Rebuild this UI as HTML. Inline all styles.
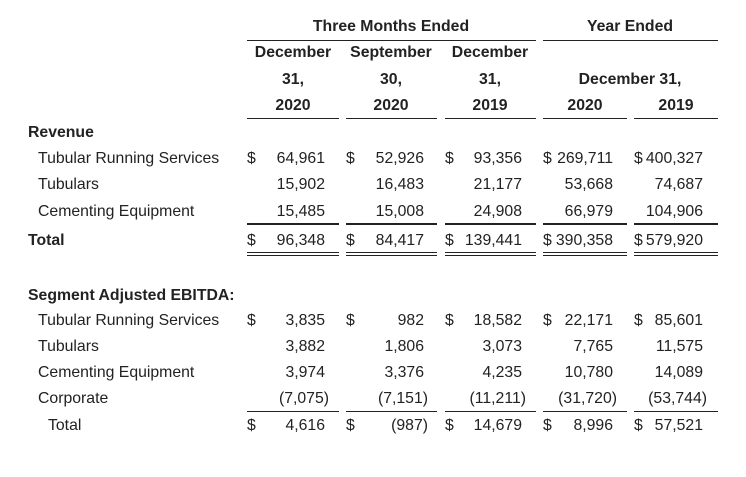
<!DOCTYPE html>
<html><head><meta charset="utf-8">
<style>
body{margin:0;width:746px;height:477px;background:#fff;position:relative;overflow:hidden;font-family:"Liberation Sans",Arial,sans-serif;font-size:15.8px;color:#222;}
.t{position:absolute;line-height:16px;height:16px;white-space:nowrap;}
.b{font-weight:bold;}
.c{text-align:center;width:200px;}
.l{position:absolute;background:#222;}
</style></head><body>
<!-- headers -->
<div class="t b c" style="top:19px;left:291px">Three Months Ended</div>
<div class="t b c" style="top:19px;left:530px">Year Ended</div>
<div class="l" style="left:247px;top:40px;width:289px;height:1px"></div>
<div class="l" style="left:543px;top:40px;width:175px;height:1px"></div>
<div class="t b c" style="top:45px;left:193px">December</div>
<div class="t b c" style="top:45px;left:291px">September</div>
<div class="t b c" style="top:45px;left:390px">December</div>
<div class="t b c" style="top:72px;left:193px">31,</div>
<div class="t b c" style="top:72px;left:291px">30,</div>
<div class="t b c" style="top:72px;left:390px">31,</div>
<div class="t b c" style="top:72px;left:530px">December 31,</div>
<div class="t b c" style="top:98px;left:193px">2020</div>
<div class="t b c" style="top:98px;left:291px">2020</div>
<div class="t b c" style="top:98px;left:390px">2019</div>
<div class="t b c" style="top:98px;left:485px">2020</div>
<div class="t b c" style="top:98px;left:576px">2019</div>
<div class="l" style="left:247px;top:118px;width:92px;height:1px"></div>
<div class="l" style="left:346px;top:118px;width:91px;height:1px"></div>
<div class="l" style="left:445px;top:118px;width:91px;height:1px"></div>
<div class="l" style="left:543px;top:118px;width:84px;height:1px"></div>
<div class="l" style="left:634px;top:118px;width:84px;height:1px"></div>

<!-- labels -->
<div class="t b" style="top:125px;left:28px">Revenue</div>
<div class="t" style="top:151px;left:38px">Tubular Running Services</div>
<div class="t" style="top:177px;left:38px">Tubulars</div>
<div class="t" style="top:204px;left:38px">Cementing Equipment</div>
<div class="t b" style="top:233px;left:28px">Total</div>
<div class="t b" style="top:288px;left:28px">Segment Adjusted EBITDA:</div>
<div class="t" style="top:313px;left:38px">Tubular Running Services</div>
<div class="t" style="top:339px;left:38px">Tubulars</div>
<div class="t" style="top:365px;left:38px">Cementing Equipment</div>
<div class="t" style="top:391px;left:38px">Corporate</div>
<div class="t" style="top:418px;left:48px">Total</div>

<!-- dollar signs -->
<div class="t" style="top:151px;left:247px">$</div>
<div class="t" style="top:151px;left:346px">$</div>
<div class="t" style="top:151px;left:445px">$</div>
<div class="t" style="top:151px;left:543px">$</div>
<div class="t" style="top:151px;left:634px">$</div>
<div class="t" style="top:233px;left:247px">$</div>
<div class="t" style="top:233px;left:346px">$</div>
<div class="t" style="top:233px;left:445px">$</div>
<div class="t" style="top:233px;left:543px">$</div>
<div class="t" style="top:233px;left:634px">$</div>
<div class="t" style="top:313px;left:247px">$</div>
<div class="t" style="top:313px;left:346px">$</div>
<div class="t" style="top:313px;left:445px">$</div>
<div class="t" style="top:313px;left:543px">$</div>
<div class="t" style="top:313px;left:634px">$</div>
<div class="t" style="top:418px;left:247px">$</div>
<div class="t" style="top:418px;left:346px">$</div>
<div class="t" style="top:418px;left:445px">$</div>
<div class="t" style="top:418px;left:543px">$</div>
<div class="t" style="top:418px;left:634px">$</div>

<!-- revenue numbers -->
<div class="t" style="top:151px;right:421px">64,961</div>
<div class="t" style="top:151px;right:322px">52,926</div>
<div class="t" style="top:151px;right:224px">93,356</div>
<div class="t" style="top:151px;right:133px">269,711</div>
<div class="t" style="top:151px;right:43px">400,327</div>
<div class="t" style="top:177px;right:421px">15,902</div>
<div class="t" style="top:177px;right:322px">16,483</div>
<div class="t" style="top:177px;right:224px">21,177</div>
<div class="t" style="top:177px;right:133px">53,668</div>
<div class="t" style="top:177px;right:43px">74,687</div>
<div class="t" style="top:204px;right:421px">15,485</div>
<div class="t" style="top:204px;right:322px">15,008</div>
<div class="t" style="top:204px;right:224px">24,908</div>
<div class="t" style="top:204px;right:133px">66,979</div>
<div class="t" style="top:204px;right:43px">104,906</div>
<div class="l" style="left:247px;top:223px;width:92px;height:2px"></div>
<div class="l" style="left:346px;top:223px;width:91px;height:2px"></div>
<div class="l" style="left:445px;top:223px;width:91px;height:2px"></div>
<div class="l" style="left:543px;top:223px;width:84px;height:2px"></div>
<div class="l" style="left:634px;top:223px;width:84px;height:2px"></div>
<div class="t" style="top:233px;right:421px">96,348</div>
<div class="t" style="top:233px;right:322px">84,417</div>
<div class="t" style="top:233px;right:224px">139,441</div>
<div class="t" style="top:233px;right:133px">390,358</div>
<div class="t" style="top:233px;right:43px">579,920</div>
<div class="l" style="left:247px;top:252px;width:92px;height:1px"></div>
<div class="l" style="left:346px;top:252px;width:91px;height:1px"></div>
<div class="l" style="left:445px;top:252px;width:91px;height:1px"></div>
<div class="l" style="left:543px;top:252px;width:84px;height:1px"></div>
<div class="l" style="left:634px;top:252px;width:84px;height:1px"></div>
<div class="l" style="left:247px;top:255px;width:92px;height:1px"></div>
<div class="l" style="left:346px;top:255px;width:91px;height:1px"></div>
<div class="l" style="left:445px;top:255px;width:91px;height:1px"></div>
<div class="l" style="left:543px;top:255px;width:84px;height:1px"></div>
<div class="l" style="left:634px;top:255px;width:84px;height:1px"></div>

<!-- EBITDA numbers -->
<div class="t" style="top:313px;right:421px">3,835</div>
<div class="t" style="top:313px;right:322px">982</div>
<div class="t" style="top:313px;right:224px">18,582</div>
<div class="t" style="top:313px;right:133px">22,171</div>
<div class="t" style="top:313px;right:43px">85,601</div>
<div class="t" style="top:339px;right:421px">3,882</div>
<div class="t" style="top:339px;right:322px">1,806</div>
<div class="t" style="top:339px;right:224px">3,073</div>
<div class="t" style="top:339px;right:133px">7,765</div>
<div class="t" style="top:339px;right:43px">11,575</div>
<div class="t" style="top:365px;right:421px">3,974</div>
<div class="t" style="top:365px;right:322px">3,376</div>
<div class="t" style="top:365px;right:224px">4,235</div>
<div class="t" style="top:365px;right:133px">10,780</div>
<div class="t" style="top:365px;right:43px">14,089</div>
<div class="t" style="top:391px;right:417px">(7,075)</div>
<div class="t" style="top:391px;right:318px">(7,151)</div>
<div class="t" style="top:391px;right:220px">(11,211)</div>
<div class="t" style="top:391px;right:129px">(31,720)</div>
<div class="t" style="top:391px;right:39px">(53,744)</div>
<div class="l" style="left:247px;top:411px;width:92px;height:1px"></div>
<div class="l" style="left:346px;top:411px;width:91px;height:1px"></div>
<div class="l" style="left:445px;top:411px;width:91px;height:1px"></div>
<div class="l" style="left:543px;top:411px;width:84px;height:1px"></div>
<div class="l" style="left:634px;top:411px;width:84px;height:1px"></div>
<div class="t" style="top:418px;right:421px">4,616</div>
<div class="t" style="top:418px;right:318px">(987)</div>
<div class="t" style="top:418px;right:224px">14,679</div>
<div class="t" style="top:418px;right:133px">8,996</div>
<div class="t" style="top:418px;right:43px">57,521</div>
</body></html>
